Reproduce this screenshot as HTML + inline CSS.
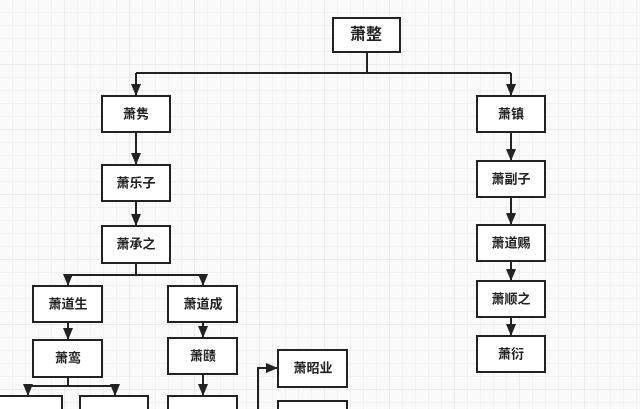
<!DOCTYPE html>
<html><head><meta charset="utf-8"><style>
html,body{margin:0;padding:0;background:#fff}
svg{display:block}
text{font-family:"Liberation Sans","Noto Sans CJK SC",sans-serif;font-size:13px;fill:#222;text-anchor:middle;dominant-baseline:central;font-weight:bold}
</style></head><body>
<svg width="640" height="409" viewBox="0 0 640 409" xmlns="http://www.w3.org/2000/svg">
<defs>
<pattern id="g" width="13" height="13" patternUnits="userSpaceOnUse"><path d="M13 0V13H0" fill="none" stroke="#e8e8e8" stroke-width="1"/></pattern>
<pattern id="G" width="65" height="65" patternUnits="userSpaceOnUse"><rect width="65" height="65" fill="url(#g)"/><path d="M65 0V65H0" fill="none" stroke="#dcdcdc" stroke-width="1"/></pattern>
<marker id="a" markerWidth="12" markerHeight="10" refX="11" refY="5" orient="auto" markerUnits="userSpaceOnUse"><path d="M0 0L12 5L0 10z" fill="#222"/></marker>
</defs>
<rect width="640" height="409" fill="#fafafa"/>
<rect width="640" height="409" fill="url(#G)"/>
<g fill="none" stroke="#222" stroke-width="2">
<path d="M367 52V73M136 73H511"/>
<path d="M136 73V95" marker-end="url(#a)"/>
<path d="M511 73V95" marker-end="url(#a)"/>
<path d="M136 132V164" marker-end="url(#a)"/>
<path d="M136 201V225" marker-end="url(#a)"/>
<path d="M136 263V275M68 275H203"/>
<path d="M68 275V285" marker-end="url(#a)"/>
<path d="M203 275V285" marker-end="url(#a)"/>
<path d="M68 322V339" marker-end="url(#a)"/>
<path d="M203 322V337" marker-end="url(#a)"/>
<path d="M68 377V386M28 386H115"/>
<path d="M28 386V395" marker-end="url(#a)"/>
<path d="M115 386V395" marker-end="url(#a)"/>
<path d="M203 374V395" marker-end="url(#a)"/>
<path d="M258 409V368H277" marker-end="url(#a)"/>
<path d="M511 132V160" marker-end="url(#a)"/>
<path d="M511 197V224" marker-end="url(#a)"/>
<path d="M511 261V280" marker-end="url(#a)"/>
<path d="M511 317V335" marker-end="url(#a)"/>
</g>
<g fill="#fff" stroke="#222" stroke-width="2">
<rect x="333" y="18" width="67" height="34"/>
<rect x="102" y="96" width="68" height="36"/>
<rect x="102" y="165" width="68" height="36"/>
<rect x="102" y="226" width="68" height="37"/>
<rect x="33" y="286" width="69" height="36"/>
<rect x="168" y="286" width="69" height="36"/>
<rect x="33" y="340" width="69" height="37"/>
<rect x="168" y="338" width="69" height="36"/>
<rect x="-5" y="396" width="67" height="20"/>
<rect x="80" y="396" width="68" height="20"/>
<rect x="168" y="396" width="69" height="20"/>
<rect x="278" y="350" width="69" height="37"/>
<rect x="278" y="401" width="69" height="20"/>
<rect x="477" y="96" width="68" height="36"/>
<rect x="477" y="161" width="68" height="36"/>
<rect x="477" y="225" width="68" height="36"/>
<rect x="477" y="281" width="68" height="36"/>
<rect x="477" y="336" width="68" height="36"/>
</g>
<text x="366" y="35" style="font-size:16px">萧整</text>
<text x="136" y="114">萧隽</text>
<text x="136" y="183">萧乐子</text>
<text x="136" y="244">萧承之</text>
<text x="68" y="304">萧道生</text>
<text x="203" y="304">萧道成</text>
<text x="68" y="358">萧鸾</text>
<text x="203" y="356">萧赜</text>
<text x="313" y="368">萧昭业</text>
<text x="511" y="114">萧镇</text>
<text x="511" y="179">萧副子</text>
<text x="511" y="243">萧道赐</text>
<text x="511" y="299">萧顺之</text>
<text x="511" y="354">萧衍</text>
</svg>
</body></html>
